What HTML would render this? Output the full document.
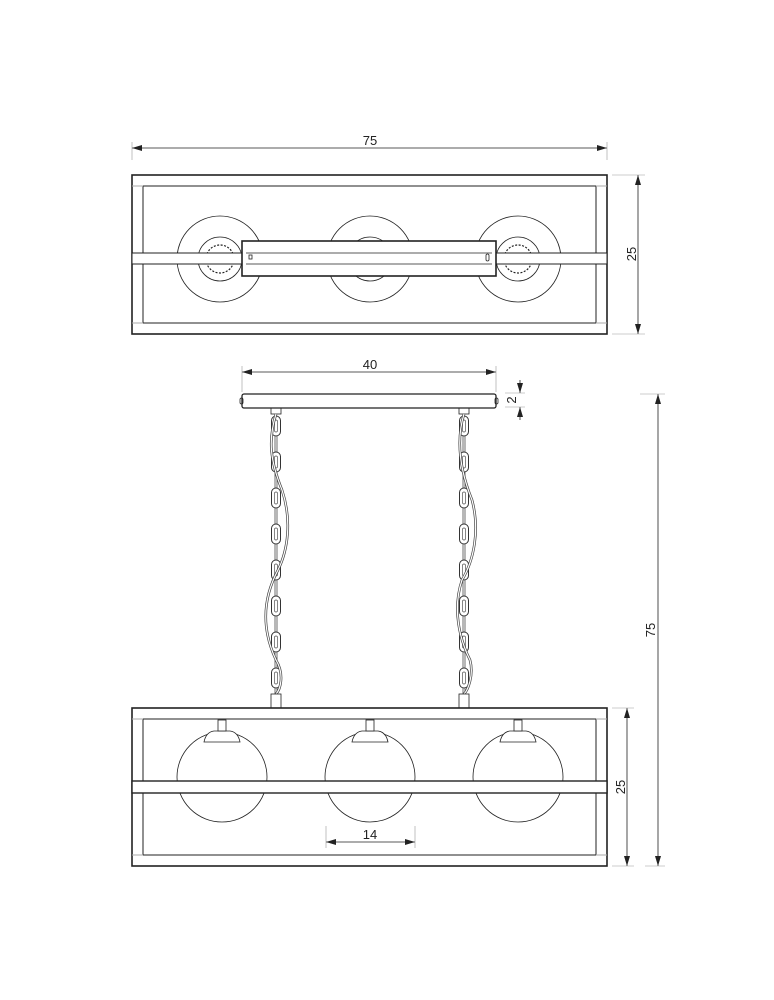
<!DOCTYPE html>
<html><head><meta charset="utf-8"><style>
html,body{margin:0;padding:0;background:#fff}
svg{display:block}
text{font-family:"Liberation Sans",sans-serif;font-size:13px;fill:#222}
</style></head><body>
<svg width="774" height="1000" viewBox="0 0 774 1000" xmlns="http://www.w3.org/2000/svg">
<defs>
<marker id="a" viewBox="0 0 10 6" refX="10" refY="3" markerWidth="10" markerHeight="6" orient="auto-start-reverse" markerUnits="userSpaceOnUse"><path d="M0,0L10,3L0,6z" fill="#222"/></marker>
<g id="lk">
<rect x="-4.5" y="0" width="9" height="20" rx="4.5" fill="#fff" stroke="#333" stroke-width="1"/>
<rect x="-1.5" y="4" width="3" height="12" rx="1.5" fill="none" stroke="#555" stroke-width="0.7"/>
<rect x="-1" y="20" width="2" height="16" fill="#fff" stroke="#333" stroke-width="0.7"/>
</g>
</defs>
<g fill="none" stroke="#222" stroke-width="1">
<!-- TOP VIEW -->
<line x1="132" y1="148" x2="607" y2="148" stroke-width="0.8" marker-start="url(#a)" marker-end="url(#a)"/>
<line x1="132" y1="142" x2="132" y2="160" stroke="#999" stroke-width="0.6"/>
<line x1="607" y1="142" x2="607" y2="160" stroke="#999" stroke-width="0.6"/>
<line x1="638" y1="175" x2="638" y2="334" stroke-width="0.8" marker-start="url(#a)" marker-end="url(#a)"/>
<line x1="612" y1="175" x2="645" y2="175" stroke="#999" stroke-width="0.6"/>
<line x1="612" y1="334" x2="645" y2="334" stroke="#999" stroke-width="0.6"/>
<g stroke-width="0.8">
<circle cx="220" cy="259" r="43"/><circle cx="370" cy="259" r="43"/><circle cx="518" cy="259" r="43"/>
<circle cx="220" cy="259" r="22"/><circle cx="370" cy="259" r="22"/><circle cx="518" cy="259" r="22"/>
</g>
<g stroke-width="1.2" stroke-dasharray="2 1.5">
<circle cx="220" cy="259" r="14"/><circle cx="518" cy="259" r="14"/>
</g>
<rect x="132" y="175" width="475" height="159" stroke-width="1.6" fill="none"/>
<rect x="143" y="186" width="453" height="137"/>
<line x1="132" y1="186" x2="143" y2="186" stroke="#aaa"/><line x1="596" y1="186" x2="607" y2="186" stroke="#aaa"/>
<line x1="132" y1="323" x2="143" y2="323" stroke="#aaa"/><line x1="596" y1="323" x2="607" y2="323" stroke="#aaa"/>
<rect x="132" y="253" width="475" height="11" fill="#fff"/>
<rect x="242" y="241" width="254" height="35" fill="#fff" stroke-width="1.6"/>
<line x1="246" y1="253" x2="492" y2="253" stroke-width="0.7"/>
<line x1="246" y1="264" x2="492" y2="264" stroke-width="0.7"/>
<rect x="249" y="255" width="3" height="4" stroke-width="0.8"/>
<rect x="486" y="254" width="3" height="7" rx="1.5" stroke-width="0.8"/>
<!-- SIDE VIEW -->
<line x1="242" y1="372" x2="496" y2="372" stroke-width="0.8" marker-start="url(#a)" marker-end="url(#a)"/>
<line x1="242" y1="366" x2="242" y2="392" stroke="#999" stroke-width="0.6"/>
<line x1="496" y1="366" x2="496" y2="392" stroke="#999" stroke-width="0.6"/>
<line x1="520" y1="380" x2="520" y2="393" stroke-width="0.8" marker-end="url(#a)"/>
<line x1="520" y1="420" x2="520" y2="407" stroke-width="0.8" marker-end="url(#a)"/>
<line x1="505" y1="393" x2="525" y2="393" stroke="#999" stroke-width="0.6"/>
<line x1="505" y1="407" x2="525" y2="407" stroke="#999" stroke-width="0.6"/>
<rect x="242" y="394" width="254" height="14" rx="2" fill="#fff" stroke-width="1.3"/>
<rect x="240" y="398" width="3" height="6" rx="1.5" stroke-width="0.8"/>
<rect x="495" y="398" width="3" height="6" rx="1.5" stroke-width="0.8"/>
<rect x="271" y="408" width="10" height="6" stroke-width="0.8"/>
<rect x="459" y="408" width="10" height="6" stroke-width="0.8"/>
<line x1="276" y1="414" x2="276" y2="694" stroke-width="1.5"/>
<line x1="464" y1="414" x2="464" y2="694" stroke-width="1.5"/>
<g>
<use href="#lk" x="276" y="416"/><use href="#lk" x="276" y="452"/><use href="#lk" x="276" y="488"/><use href="#lk" x="276" y="524"/><use href="#lk" x="276" y="560"/><use href="#lk" x="276" y="596"/><use href="#lk" x="276" y="632"/><use href="#lk" x="276" y="668"/>
<use href="#lk" x="464" y="416"/><use href="#lk" x="464" y="452"/><use href="#lk" x="464" y="488"/><use href="#lk" x="464" y="524"/><use href="#lk" x="464" y="560"/><use href="#lk" x="464" y="596"/><use href="#lk" x="464" y="632"/><use href="#lk" x="464" y="668"/>
</g>
<g stroke="#444" stroke-width="2.6"><path d="M276,414 C268,440 270,460 282,490 C292,520 288,550 278,570 C262,600 262,630 276,660 C285,675 280,690 276,694"/>
<path d="M464,414 C456,440 460,470 472,500 C480,530 474,560 462,580 C452,610 460,640 470,660 C474,675 468,690 464,694"/></g>
<g stroke="#fff" stroke-width="1.2"><path d="M276,414 C268,440 270,460 282,490 C292,520 288,550 278,570 C262,600 262,630 276,660 C285,675 280,690 276,694"/>
<path d="M464,414 C456,440 460,470 472,500 C480,530 474,560 462,580 C452,610 460,640 470,660 C474,675 468,690 464,694"/></g>
<rect x="271" y="694" width="10" height="14" fill="#fff" stroke-width="0.8"/>
<rect x="459" y="694" width="10" height="14" fill="#fff" stroke-width="0.8"/>
<!-- bottom frame -->
<line x1="627" y1="708" x2="627" y2="866" stroke-width="0.8" marker-start="url(#a)" marker-end="url(#a)"/>
<line x1="612" y1="708" x2="634" y2="708" stroke="#999" stroke-width="0.6"/>
<line x1="612" y1="866" x2="634" y2="866" stroke="#999" stroke-width="0.6"/>
<line x1="658" y1="394" x2="658" y2="866" stroke-width="0.8" marker-start="url(#a)" marker-end="url(#a)"/>
<line x1="640" y1="394" x2="665" y2="394" stroke="#999" stroke-width="0.6"/>
<line x1="645" y1="866" x2="665" y2="866" stroke="#999" stroke-width="0.6"/>
<g stroke-width="0.8">
<circle cx="222" cy="777" r="45"/><circle cx="370" cy="777" r="45"/><circle cx="518" cy="777" r="45"/>
</g>
<g stroke-width="0.8">
<path d="M204,742 Q206,732 214,731 L230,731 Q238,732 240,742 Z" fill="#fff"/>
<path d="M352,742 Q354,732 362,731 L378,731 Q386,732 388,742 Z" fill="#fff"/>
<path d="M500,742 Q502,732 510,731 L526,731 Q534,732 536,742 Z" fill="#fff"/>
<rect x="218" y="720" width="8" height="11" fill="#fff"/>
<rect x="366" y="720" width="8" height="11" fill="#fff"/>
<rect x="514" y="720" width="8" height="11" fill="#fff"/>
</g>
<rect x="132" y="708" width="475" height="158" stroke-width="1.6"/>
<rect x="143" y="719" width="453" height="136"/>
<line x1="132" y1="719" x2="143" y2="719" stroke="#aaa"/><line x1="596" y1="719" x2="607" y2="719" stroke="#aaa"/>
<line x1="132" y1="855" x2="143" y2="855" stroke="#aaa"/><line x1="596" y1="855" x2="607" y2="855" stroke="#aaa"/>
<rect x="132" y="781" width="475" height="12" fill="#fff" stroke-width="1.4"/>
<line x1="326" y1="842" x2="415" y2="842" stroke-width="0.8" marker-start="url(#a)" marker-end="url(#a)"/>
<line x1="326" y1="826" x2="326" y2="848" stroke="#999" stroke-width="0.6"/>
<line x1="415" y1="826" x2="415" y2="848" stroke="#999" stroke-width="0.6"/>
</g>
<text x="370" y="145" text-anchor="middle">75</text>
<text transform="translate(636,254) rotate(-90)" text-anchor="middle">25</text>
<text x="370" y="369" text-anchor="middle">40</text>
<text transform="translate(516,400) rotate(-90)" text-anchor="middle">2</text>
<text transform="translate(655,630) rotate(-90)" text-anchor="middle">75</text>
<text transform="translate(625,787) rotate(-90)" text-anchor="middle">25</text>
<text x="370" y="839" text-anchor="middle">14</text>
</svg>
</body></html>
